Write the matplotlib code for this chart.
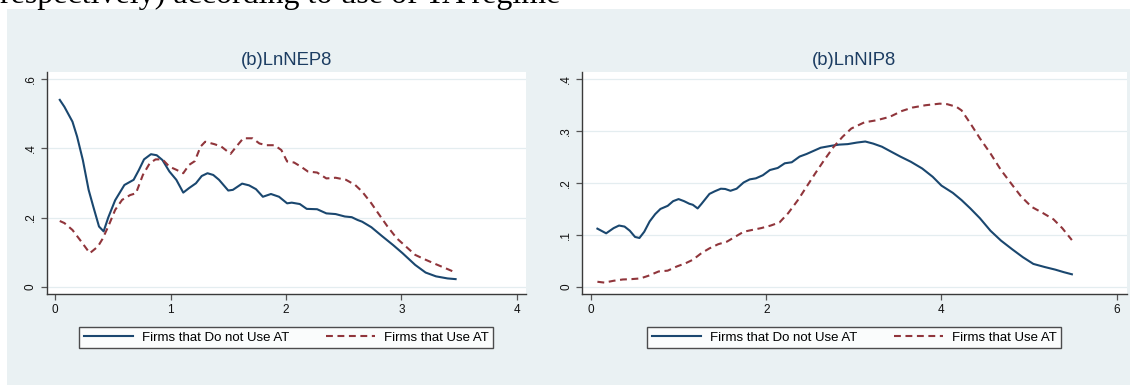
import matplotlib.pyplot as plt
from matplotlib.patches import Rectangle

####################################################
# Data
####################################################
nep_x_no = [0.04, 0.08, 0.15, 0.19, 0.24, 0.29, 0.33, 0.38, 0.42, 0.46, 0.52, 0.60,
            0.68, 0.725, 0.77, 0.83, 0.88, 0.93, 0.99, 1.05, 1.11, 1.16, 1.22, 1.27,
            1.32, 1.37, 1.42, 1.50, 1.54, 1.62, 1.68, 1.74, 1.80, 1.87, 1.94, 2.01,
            2.05, 2.12, 2.18, 2.27, 2.35, 2.43, 2.51, 2.57, 2.62, 2.66, 2.74, 2.83,
            2.93, 3.01, 3.12, 3.21, 3.30, 3.40, 3.47]
nep_y_no = [0.540, 0.520, 0.477, 0.434, 0.366, 0.280, 0.232, 0.174, 0.160, 0.200, 0.250, 0.294,
            0.309, 0.337, 0.368, 0.383, 0.380, 0.366, 0.333, 0.309, 0.272, 0.285, 0.299, 0.320,
            0.328, 0.323, 0.309, 0.278, 0.280, 0.298, 0.293, 0.282, 0.260, 0.268, 0.260, 0.241,
            0.243, 0.239, 0.225, 0.224, 0.212, 0.210, 0.203, 0.201, 0.193, 0.188, 0.172, 0.147,
            0.120, 0.097, 0.063, 0.041, 0.030, 0.024, 0.022]

nep_x_use = [0.04, 0.08, 0.15, 0.225, 0.30, 0.37, 0.41, 0.46, 0.52, 0.58, 0.65, 0.70,
             0.76, 0.82, 0.87, 0.93, 0.99, 1.05, 1.11, 1.16, 1.21, 1.26, 1.30, 1.38,
             1.44, 1.52, 1.57, 1.63, 1.71, 1.77, 1.83, 1.90, 1.96, 2.01, 2.07, 2.13,
             2.19, 2.27, 2.35, 2.43, 2.52, 2.60, 2.66, 2.74, 2.80, 2.88, 2.96, 3.04,
             3.12, 3.21, 3.30, 3.40, 3.47]
nep_y_use = [0.190, 0.184, 0.164, 0.131, 0.097, 0.116, 0.138, 0.174, 0.222, 0.251, 0.265, 0.270,
             0.323, 0.357, 0.368, 0.368, 0.347, 0.338, 0.328, 0.352, 0.363, 0.405, 0.419, 0.412,
             0.405, 0.384, 0.405, 0.429, 0.429, 0.414, 0.409, 0.409, 0.395, 0.362, 0.359, 0.347,
             0.333, 0.330, 0.313, 0.315, 0.309, 0.294, 0.275, 0.241, 0.212, 0.174, 0.140, 0.116,
             0.092, 0.078, 0.065, 0.051, 0.041]

nip_x_no = [0.07, 0.17, 0.255, 0.317, 0.38, 0.44, 0.50, 0.55, 0.605, 0.667, 0.73, 0.79,
            0.873, 0.935, 0.997, 1.06, 1.12, 1.16, 1.215, 1.26, 1.35, 1.41, 1.48, 1.53,
            1.59, 1.66, 1.74, 1.81, 1.88, 1.96, 2.04, 2.13, 2.21, 2.29, 2.38, 2.46,
            2.54, 2.62, 2.75, 2.83, 2.93, 3.035, 3.13, 3.22, 3.32, 3.43, 3.53, 3.65,
            3.78, 3.90, 4.00, 4.13, 4.23, 4.33, 4.44, 4.56, 4.68, 4.81, 4.93, 5.05,
            5.18, 5.30, 5.40, 5.49]
nip_y_no = [0.112, 0.103, 0.113, 0.118, 0.116, 0.108, 0.096, 0.094, 0.106, 0.126, 0.140, 0.150,
            0.156, 0.165, 0.169, 0.165, 0.160, 0.158, 0.151, 0.160, 0.179, 0.184, 0.189, 0.1885,
            0.185, 0.189, 0.201, 0.207, 0.209, 0.215, 0.225, 0.229, 0.238, 0.240, 0.251, 0.256,
            0.262, 0.268, 0.272, 0.274, 0.275, 0.278, 0.280, 0.276, 0.270, 0.260, 0.251, 0.241,
            0.228, 0.212, 0.195, 0.181, 0.167, 0.151, 0.132, 0.108, 0.089, 0.072, 0.057, 0.044,
            0.038, 0.033, 0.028, 0.024]

nip_x_use = [0.07, 0.15, 0.255, 0.36, 0.46, 0.56, 0.65, 0.77, 0.873, 0.976, 1.08, 1.16,
             1.26, 1.35, 1.45, 1.55, 1.635, 1.74, 1.84, 1.94, 2.05, 2.15, 2.25, 2.36,
             2.46, 2.56, 2.66, 2.77, 2.87, 2.97, 3.12, 3.26, 3.41, 3.55, 3.67, 3.82,
             3.98, 4.065, 4.17, 4.23, 4.33, 4.44, 4.56, 4.68, 4.81, 4.91, 5.03, 5.16,
             5.28, 5.38, 5.49]
nip_y_use = [0.0096, 0.008, 0.0115, 0.014, 0.0147, 0.016, 0.021, 0.0295, 0.031, 0.039, 0.0455, 0.052,
             0.065, 0.074, 0.082, 0.087, 0.0955, 0.106, 0.1096, 0.113, 0.118, 0.124, 0.142, 0.167,
             0.193, 0.219, 0.244, 0.270, 0.289, 0.305, 0.317, 0.321, 0.3276, 0.339, 0.3455, 0.350,
             0.353, 0.352, 0.347, 0.340, 0.315, 0.286, 0.257, 0.225, 0.196, 0.174, 0.154, 0.142,
             0.130, 0.113, 0.090]

series_labels = ['Firms that Do not Use AT', 'Firms that Use AT']

####################################################
# Style
####################################################
navy = '#1a476f'
maroon = '#90353b'
bg = '#eaf1f3'
W, H = 1130, 385

plt.rcParams['font.family'] = ['Liberation Sans', 'DejaVu Sans']

fig = plt.figure(figsize=(W / 100, H / 100), dpi=100)
fig.patches.append(Rectangle((7.3 / W, 0), 1, 1 - 9 / H, transform=fig.transFigure,
                             facecolor=bg, edgecolor='none', zorder=-10))
fig.text(0, 1 - 3.5 / H, 'respectively) according to use of TA regime',
         family='Liberation Serif', fontsize=23, va='baseline', ha='left', color='black')


def panel(left_px, right_px, title, xs, ys, xlim, ylim, xticks, yticks, yticklabels):
    ax = fig.add_axes([left_px / W, 1 - 294 / H, (right_px - left_px) / W, (294 - 71.5) / H])
    ax.set_facecolor('white')
    ax.plot(xs[0], ys[0], color=navy, lw=1.5, label=series_labels[0])
    ax.plot(xs[1], ys[1], color=maroon, lw=1.5, linestyle=(0, (3.3, 2.2)), label=series_labels[1])
    ax.set_xlim(*xlim)
    ax.set_ylim(*ylim)
    ax.set_xticks(xticks)
    ax.set_yticks(yticks)
    ax.set_yticklabels(yticklabels, rotation=90, va='center')
    for s in ['top', 'right']:
        ax.spines[s].set_visible(False)
    for s in ['left', 'bottom']:
        ax.spines[s].set_color('#3a3a3a')
        ax.spines[s].set_linewidth(1.0)
    ax.tick_params(length=4, width=0.9, color='#555555', labelsize=8.5, labelcolor='#111111')
    ax.tick_params(axis='x', pad=3)
    ax.tick_params(axis='y', pad=3)
    ax.yaxis.grid(True, color='#e4edf0', lw=0.9)
    ax.set_axisbelow(True)
    ax.set_title(title, fontsize=13.3, color='#1c3d62', pad=5)
    leg = ax.legend(loc='upper center', bbox_to_anchor=((left_px + right_px) / 2 / W, 1 - 327 / H),
                    bbox_transform=fig.transFigure, ncol=2, fontsize=9.5, frameon=True,
                    fancybox=False, borderpad=0.35, borderaxespad=0, handlelength=3.7,
                    handletextpad=0.7, columnspacing=2.8)
    leg.get_frame().set_edgecolor('#222222')
    leg.get_frame().set_linewidth(1.0)
    return ax


panel(46.5, 526, '(b)LnNEP8', [nep_x_no, nep_x_use], [nep_y_no, nep_y_use],
      (-0.075, 4.08), (-0.021, 0.622), [0, 1, 2, 3, 4], [0, 0.2, 0.4, 0.6], ['0', '.2', '.4', '.6'])
panel(582, 1126.5, '(b)LnNIP8', [nip_x_no, nip_x_use], [nip_y_no, nip_y_use],
      (-0.106, 6.114), (-0.014, 0.415), [0, 2, 4, 6], [0, 0.1, 0.2, 0.3, 0.4],
      ['0', '.1', '.2', '.3', '.4'])

plt.savefig('out.png', dpi=100)
